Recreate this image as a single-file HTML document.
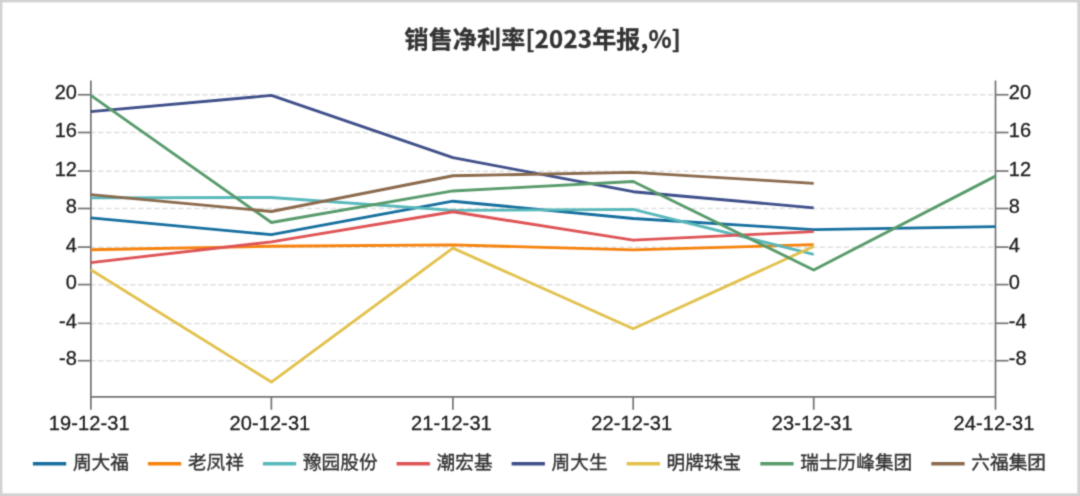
<!DOCTYPE html>
<html><head><meta charset="utf-8"><title>销售净利率</title>
<style>
html,body{margin:0;padding:0;background:#fff;}
body{width:1080px;height:496px;overflow:hidden;position:relative;}
svg{position:absolute;left:0;top:0;display:block;will-change:transform;}
.lbl{font-family:"Liberation Sans","Noto Sans CJK SC",sans-serif;font-size:20px;fill:#1e1e1e;stroke:#1e1e1e;stroke-width:0.3px;letter-spacing:0.1px;}
.ttl{font-family:"Noto Sans CJK SC","Liberation Sans",sans-serif;font-size:24px;font-weight:bold;fill:#333;stroke:#333;stroke-width:0.3px;}
.leg{font-family:"Noto Sans CJK SC","Liberation Sans",sans-serif;font-size:18.67px;fill:#333;stroke:#333;stroke-width:0.35px;}
</style></head><body>
<svg width="1080" height="496" viewBox="0 0 1080 496">
<defs><filter id="soft" color-interpolation-filters="sRGB" filterUnits="userSpaceOnUse" x="0" y="0" width="1080" height="496"><feConvolveMatrix order="3" kernelMatrix="1.0 4.0 1.0 4.0 16.0 4.0 1.0 4.0 1.0" divisor="36.0" edgeMode="duplicate" preserveAlpha="false"/></filter></defs>
<g filter="url(#soft)">

<rect x="0" y="0" width="1080" height="496" fill="#d2d2d2"/>
<rect x="2" y="2" width="1076" height="492" fill="#e2e2e2"/>
<rect x="2.5" y="2.5" width="1074.5" height="490.5" fill="#fafafa"/>
<rect x="3" y="3" width="1073.5" height="489.5" fill="#fff"/>
<text class="ttl" x="542.8" y="48" text-anchor="middle" letter-spacing="0.2">销售净利率[2023年报,%]</text>
<line x1="90.08" y1="94.85" x2="995.5" y2="94.85" stroke="#e0e0e0" stroke-width="1.5" stroke-dasharray="5.35 2.667"/>
<line x1="90.08" y1="132.60" x2="995.5" y2="132.60" stroke="#e0e0e0" stroke-width="1.5" stroke-dasharray="5.35 2.667"/>
<line x1="90.08" y1="171.15" x2="995.5" y2="171.15" stroke="#e0e0e0" stroke-width="1.5" stroke-dasharray="5.35 2.667"/>
<line x1="90.08" y1="208.60" x2="995.5" y2="208.60" stroke="#e0e0e0" stroke-width="1.5" stroke-dasharray="5.35 2.667"/>
<line x1="90.08" y1="247.20" x2="995.5" y2="247.20" stroke="#e0e0e0" stroke-width="1.5" stroke-dasharray="5.35 2.667"/>
<line x1="90.08" y1="284.70" x2="995.5" y2="284.70" stroke="#e0e0e0" stroke-width="1.5" stroke-dasharray="5.35 2.667"/>
<line x1="90.08" y1="323.40" x2="995.5" y2="323.40" stroke="#e0e0e0" stroke-width="1.5" stroke-dasharray="5.35 2.667"/>
<line x1="90.08" y1="360.80" x2="995.5" y2="360.80" stroke="#e0e0e0" stroke-width="1.5" stroke-dasharray="5.35 2.667"/>
<g stroke="#747474" stroke-width="1.7" fill="none">
<line x1="90.85" y1="80.4" x2="90.85" y2="409.8"/>
<line x1="995.5" y1="80.4" x2="995.5" y2="409.8"/>
<line x1="90.85" y1="396.8" x2="995.5" y2="396.8"/>
<line x1="77.85" y1="94.75" x2="90.85" y2="94.75"/>
<line x1="995.5" y1="94.75" x2="1008.5" y2="94.75"/>
<line x1="77.85" y1="132.50" x2="90.85" y2="132.50"/>
<line x1="995.5" y1="132.50" x2="1008.5" y2="132.50"/>
<line x1="77.85" y1="171.05" x2="90.85" y2="171.05"/>
<line x1="995.5" y1="171.05" x2="1008.5" y2="171.05"/>
<line x1="77.85" y1="208.50" x2="90.85" y2="208.50"/>
<line x1="995.5" y1="208.50" x2="1008.5" y2="208.50"/>
<line x1="77.85" y1="247.10" x2="90.85" y2="247.10"/>
<line x1="995.5" y1="247.10" x2="1008.5" y2="247.10"/>
<line x1="77.85" y1="284.60" x2="90.85" y2="284.60"/>
<line x1="995.5" y1="284.60" x2="1008.5" y2="284.60"/>
<line x1="77.85" y1="323.30" x2="90.85" y2="323.30"/>
<line x1="995.5" y1="323.30" x2="1008.5" y2="323.30"/>
<line x1="77.85" y1="360.70" x2="90.85" y2="360.70"/>
<line x1="995.5" y1="360.70" x2="1008.5" y2="360.70"/>
<line x1="271.35" y1="396.8" x2="271.35" y2="409.8"/>
<line x1="452.9" y1="396.8" x2="452.9" y2="409.8"/>
<line x1="633.2" y1="396.8" x2="633.2" y2="409.8"/>
<line x1="813.7" y1="396.8" x2="813.7" y2="409.8"/>
</g>
<text class="lbl" x="77.1" y="99.35" text-anchor="end">20</text>
<text class="lbl" x="1008.7" y="99.35">20</text>
<text class="lbl" x="77.1" y="137.10" text-anchor="end">16</text>
<text class="lbl" x="1008.7" y="137.10">16</text>
<text class="lbl" x="77.1" y="175.65" text-anchor="end">12</text>
<text class="lbl" x="1008.7" y="175.65">12</text>
<text class="lbl" x="77.1" y="213.10" text-anchor="end">8</text>
<text class="lbl" x="1008.7" y="213.10">8</text>
<text class="lbl" x="77.1" y="251.70" text-anchor="end">4</text>
<text class="lbl" x="1008.7" y="251.70">4</text>
<text class="lbl" x="77.1" y="289.20" text-anchor="end">0</text>
<text class="lbl" x="1008.7" y="289.20">0</text>
<text class="lbl" x="77.1" y="327.90" text-anchor="end">-4</text>
<text class="lbl" x="1008.7" y="327.90">-4</text>
<text class="lbl" x="77.1" y="365.30" text-anchor="end">-8</text>
<text class="lbl" x="1008.7" y="365.30">-8</text>
<text class="lbl" x="89.3" y="429.5" text-anchor="middle">19-12-31</text>
<text class="lbl" x="269.9" y="429.5" text-anchor="middle">20-12-31</text>
<text class="lbl" x="451.4" y="429.5" text-anchor="middle">21-12-31</text>
<text class="lbl" x="631.7" y="429.5" text-anchor="middle">22-12-31</text>
<text class="lbl" x="812.2" y="429.5" text-anchor="middle">23-12-31</text>
<text class="lbl" x="994.0" y="429.5" text-anchor="middle">24-12-31</text>
<polyline points="90.8,217.86 271.4,234.69 452.9,201.22 633.2,218.53 813.7,229.65 995.5,226.61" fill="none" stroke="#166f9e" stroke-width="2.85" stroke-linejoin="round"/>
<polyline points="90.8,249.71 271.4,246.29 452.9,244.86 633.2,249.90 813.7,244.67" fill="none" stroke="#f6820c" stroke-width="2.85" stroke-linejoin="round"/>
<polyline points="90.8,197.80 271.4,197.52 452.9,210.45 633.2,209.30 813.7,254.37" fill="none" stroke="#58b8ba" stroke-width="2.85" stroke-linejoin="round"/>
<polyline points="90.8,262.64 271.4,241.82 452.9,211.78 633.2,240.20 813.7,231.55" fill="none" stroke="#de5456" stroke-width="2.85" stroke-linejoin="round"/>
<polyline points="90.8,111.57 271.4,95.41 452.9,157.68 633.2,191.72 813.7,207.88" fill="none" stroke="#3f4f89" stroke-width="2.85" stroke-linejoin="round"/>
<polyline points="90.8,269.77 271.4,382.05 452.9,248.09 633.2,328.81 813.7,246.38" fill="none" stroke="#e2c14d" stroke-width="2.85" stroke-linejoin="round"/>
<polyline points="90.8,95.41 271.4,222.52 452.9,190.96 633.2,181.54 813.7,269.96 995.5,176.13" fill="none" stroke="#589b6b" stroke-width="2.85" stroke-linejoin="round"/>
<polyline points="90.8,194.66 271.4,211.49 452.9,175.74 633.2,172.42 813.7,183.35" fill="none" stroke="#8b6a4d" stroke-width="2.85" stroke-linejoin="round"/>
<line x1="32.90" y1="463.7" x2="66.20" y2="463.7" stroke="#166f9e" stroke-width="3.4"/>
<text class="leg" x="72.90" y="469.3">周大福</text>
<line x1="147.91" y1="463.7" x2="181.21" y2="463.7" stroke="#f6820c" stroke-width="3.4"/>
<text class="leg" x="187.91" y="469.3">老凤祥</text>
<line x1="262.92" y1="463.7" x2="296.22" y2="463.7" stroke="#58b8ba" stroke-width="3.4"/>
<text class="leg" x="302.92" y="469.3">豫园股份</text>
<line x1="396.60" y1="463.7" x2="429.90" y2="463.7" stroke="#de5456" stroke-width="3.4"/>
<text class="leg" x="436.60" y="469.3">潮宏基</text>
<line x1="511.61" y1="463.7" x2="544.91" y2="463.7" stroke="#3f4f89" stroke-width="3.4"/>
<text class="leg" x="551.61" y="469.3">周大生</text>
<line x1="626.62" y1="463.7" x2="659.92" y2="463.7" stroke="#e2c14d" stroke-width="3.4"/>
<text class="leg" x="666.62" y="469.3">明牌珠宝</text>
<line x1="760.30" y1="463.7" x2="793.60" y2="463.7" stroke="#589b6b" stroke-width="3.4"/>
<text class="leg" x="800.30" y="469.3">瑞士历峰集团</text>
<line x1="931.32" y1="463.7" x2="964.62" y2="463.7" stroke="#8b6a4d" stroke-width="3.4"/>
<text class="leg" x="971.32" y="469.3">六福集团</text>
</g></svg>
</body></html>
